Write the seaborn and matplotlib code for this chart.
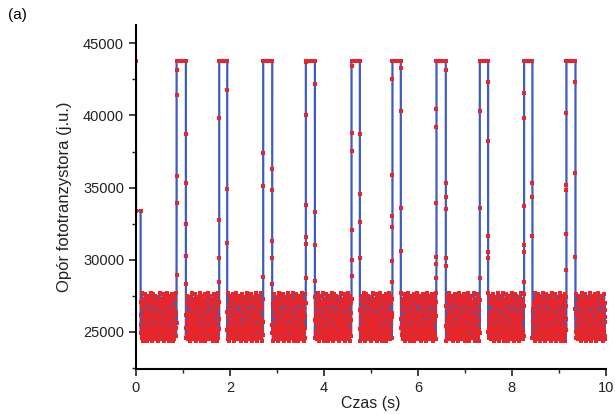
import numpy as np
import pandas as pd
import seaborn as sns
import matplotlib.pyplot as plt
from matplotlib.ticker import MultipleLocator

# odczyty z wykresu
high_level = 43750
start_t = [0.0, 0.002, 0.1]
start_v = [43750, 33400, 33400]

rise_t = [0.866, 1.773, 2.709, 3.617, 4.589, 5.460, 6.397, 7.319, 8.262, 9.163]
fall_t = [1.064, 1.943, 2.900, 3.809, 4.766, 5.638, 6.596, 7.496, 8.440, 9.355]
end_t = 10.0

# punkty posrednie na zboczach (narastajace / opadajace)
rise_mid = [
    [28960, 33900, 35830, 41400, 43150],
    [28460, 30100, 32770, 39830],
    [28800, 35090, 37420],
    [28740, 31110, 31570, 33790, 40000, 43700],
    [28870, 30000, 32090, 37530, 38800, 43400],
    [28460, 29940, 32270, 33040, 35880, 42520],
    [28740, 29710, 30160, 33950, 39230, 40480],
    [28740, 33610, 40340],
    [28460, 30550, 31050, 33730, 39800, 41570],
    [29260, 31750, 34860, 35150, 40200],
]
fall_mid = [
    [38730, 35330, 32500, 30230, 28300],
    [41800, 34930, 31140],
    [36280, 34860, 31300, 30100, 28350],
    [42200, 33340, 31000, 28510],
    [38700, 34580, 32610, 30120],
    [43290, 40340, 33610, 30620],
    [43150, 35330, 34360, 33500, 30100, 29560],
    [42290, 38260, 31680, 30550, 30120],
    [35330, 34360, 31680],
    [42290, 35990, 30160],
]

# poziomy szumu w stanie niskim (x100)
low_levels = [
    262, 249, 271, 255, 246, 268, 277, 251, 259, 244, 266, 273, 248, 257, 270, 253, 245, 264, 276, 250,
    261, 247, 269, 256, 274, 252, 244, 265, 258, 272, 249, 263, 246, 275, 254, 267, 245, 260, 271, 248,
    256, 277, 251, 263, 247, 269, 254, 273, 244, 259, 266, 250, 276, 246, 262, 253, 270, 248, 257, 275,
    245, 264, 252, 271, 258, 247, 268, 255, 274, 249, 261, 244, 267, 256, 272, 251, 263, 246, 277, 253,
    259, 270, 248, 265, 254, 245, 273, 260, 250, 268, 247, 276, 257, 262, 244, 271, 252, 266, 249, 274,
    255, 261, 246, 269, 258, 272, 251, 264, 245, 277, 253, 260, 248, 267, 256, 244, 275, 250, 263, 270,
    247, 258, 273, 252, 265, 246, 271, 255, 262, 249, 276, 254, 244, 268, 259, 251, 274, 245, 266, 257,
    272, 248, 261, 253, 277, 247, 264, 256, 270, 250, 245, 269, 258, 275, 252, 263, 246, 260, 273, 249,
    255, 267, 244, 271, 254, 262, 248, 276, 251, 265, 257, 245, 270, 260, 247, 274, 253, 266, 249, 272,
    256, 244, 263, 268, 250, 277, 246, 259, 271, 252, 264, 248, 275, 255, 261, 245, 269, 257, 273, 251,
    262, 247, 266, 254, 276, 249, 260, 272, 244, 265, 253, 270, 246, 258, 274, 250, 263, 256, 268, 248,
    271, 245, 261, 277, 252, 267, 255, 244, 264, 259, 273, 247, 269, 251, 275, 254, 260, 246, 266, 257,
]

dt = 0.0052
blue = '#3c5cc0'
red = '#e8262a'

# skladanie przebiegu
t_all = list(start_t)
v_all = list(start_v)
block_starts = [start_t[-1]] + fall_t
block_ends = rise_t + [end_t]
low = np.array(low_levels) * 100
for k in range(len(block_starts)):
    tb = np.arange(block_starts[k], block_ends[k], dt)
    vb = np.roll(low, -k * 53)
    vb = np.resize(vb, len(tb))
    t_all += list(tb)
    v_all += list(vb)
    if k < len(rise_t):
        t_all += [rise_t[k]] * len(rise_mid[k])
        v_all += rise_mid[k]
        tp = np.arange(rise_t[k], fall_t[k] + dt / 2, dt)
        t_all += list(tp)
        v_all += [high_level] * len(tp)
        t_all += [fall_t[k]] * len(fall_mid[k])
        v_all += fall_mid[k]

df = pd.DataFrame({'t': t_all, 'v': v_all})

sns.set_style('ticks')
plt.rcParams['font.family'] = ['Liberation Sans', 'DejaVu Sans']

fig = plt.figure(figsize=(6.15, 4.15), dpi=100)
ax = fig.add_axes([0.221, 0.111, 0.764, 0.829])

sns.lineplot(data=df, x='t', y='v', estimator=None, sort=False, ax=ax,
             color=blue, linewidth=1.6, marker='s', markersize=3.0,
             markerfacecolor=red, markeredgecolor=red, markeredgewidth=0)

ax.set_xlim(0, 10)
ax.set_ylim(22430, 46280)
ax.set_xticks([0, 2, 4, 6, 8, 10])
ax.set_yticks([25000, 30000, 35000, 40000, 45000])
ax.xaxis.set_minor_locator(MultipleLocator(1))
ax.yaxis.set_minor_locator(MultipleLocator(2500))
ax.tick_params(which='major', length=5, width=1.2, direction='out', labelsize=10.5, colors='#222222')
ax.tick_params(which='minor', length=3, width=1.0, direction='out')
for s in ['top', 'right']:
    ax.spines[s].set_visible(False)
for s in ['left', 'bottom']:
    ax.spines[s].set_linewidth(1.5)
    ax.spines[s].set_color('black')

ax.set_xlabel('Czas (s)', fontsize=11.5, color='#222222', labelpad=1)
ax.set_ylabel('Opór fototranzystora (j.u.)', fontsize=12, color='#222222', labelpad=8)
fig.text(0.013, 0.955, '(a)', fontsize=11, color='black')

fig.savefig('out.png', dpi=100)
